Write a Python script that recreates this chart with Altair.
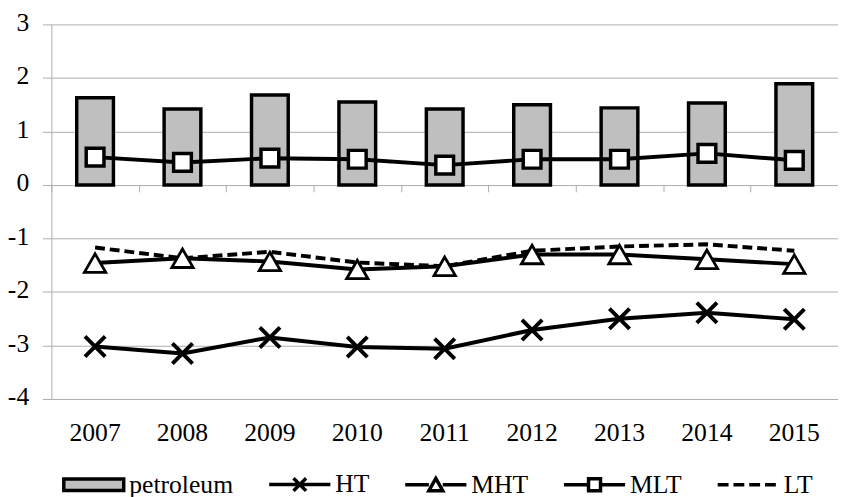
import altair as alt
import pandas as pd

# ---- data ----
years = ["2007", "2008", "2009", "2010", "2011", "2012", "2013", "2014", "2015"]
petroleum = [1.63, 1.42, 1.68, 1.55, 1.42, 1.50, 1.44, 1.53, 1.89]
ht = [-3.02, -3.15, -2.85, -3.03, -3.06, -2.71, -2.50, -2.39, -2.51]
mht = [-1.46, -1.37, -1.43, -1.58, -1.52, -1.30, -1.30, -1.39, -1.48]
mlt = [0.52, 0.42, 0.50, 0.48, 0.37, 0.48, 0.48, 0.59, 0.46]
lt = [-1.17, -1.37, -1.25, -1.45, -1.52, -1.23, -1.15, -1.11, -1.23]
series_names = ["petroleum", "HT", "MHT", "MLT", "LT"]
y_ticks = [-4, -3, -2, -1, 0, 1, 2, 3]

# ---- styling ----
W, H = 798, 380
FONT = "Liberation Serif, Times New Roman, serif"
FS = 26
GRID = "#adadad"
BAR = "#bfbfbf"
LW = 4

df = pd.DataFrame({"year": years, "petroleum": petroleum, "HT": ht,
                   "MHT": mht, "MLT": mlt, "LT": lt})
long = df.melt("year", value_vars=series_names, var_name="series", value_name="value")
legend_df = pd.DataFrame({"series": series_names})

xscale = alt.Scale(domain=years, paddingInner=0, paddingOuter=0)
yscale = alt.Scale(domain=[-4, 3], nice=False)

axis_labels = alt.Axis(orient="bottom", title=None, labelAngle=0, labelFont=FONT,
                       labelFontSize=FS, labelColor="black", labelPadding=21,
                       ticks=False, domain=False, grid=False)
axis_ticks = alt.Axis(orient="bottom", title=None, labels=False, ticks=True,
                      tickBand="extent", tickSize=7, tickColor=GRID, tickWidth=1,
                      domain=False, grid=False, offset=-H * 4 / 7)
yaxis = alt.Axis(orient="left", values=y_ticks, labelExpr="'' + datum.value", title=None,
                 grid=True, gridColor=GRID, gridWidth=1, domain=True, domainColor=GRID,
                 domainWidth=1, ticks=True, tickColor=GRID, tickSize=9, tickWidth=1,
                 labelFont=FONT, labelFontSize=FS, labelColor="black", labelPadding=14,
                 labelOffset=-2)


def X(axis):
    return alt.X("year:N", scale=xscale, sort=years, axis=axis)


def Y():
    return alt.Y("value:Q", scale=yscale, axis=yaxis)


def sel(name):
    return alt.Chart(long).transform_filter(alt.datum.series == name)


bars = sel("petroleum").mark_bar(
    fill=BAR, stroke="black", strokeWidth=3.5, width=alt.RelativeBandSize(0.42)
).encode(x=X(axis_labels), y=Y(), y2=alt.datum(0))

line_mlt = sel("MLT").mark_line(color="black", strokeWidth=LW).encode(x=X(axis_ticks), y=Y())
pts_mlt = sel("MLT").mark_point(shape="square", size=324, filled=True, fill="white",
                                stroke="black", strokeWidth=3.5, opacity=1).encode(x=X(None), y=Y())
line_lt = sel("LT").mark_line(color="black", strokeWidth=LW, strokeDash=[10, 5]).encode(x=X(None), y=Y())
line_mht = sel("MHT").mark_line(color="black", strokeWidth=LW).encode(x=X(None), y=Y())
pts_mht = sel("MHT").mark_point(shape="triangle-up", size=470, filled=True, fill="white",
                                stroke="black", strokeWidth=2.8, opacity=1).encode(x=X(None), y=Y())
line_ht = sel("HT").mark_line(color="black", strokeWidth=LW).encode(x=X(None), y=Y())
pts_ht = sel("HT").mark_point(shape="M-1,-1L1,1M-1,1L1,-1", size=420, filled=False,
                              stroke="black", strokeWidth=4, opacity=1).encode(x=X(None), y=Y())

# legend symbols (unit box = 64 px wide)
legend_paths = [
    "M-0.95,-0.18H0.95V0.18H-0.95Z",
    "M-0.97,0H0.97M-0.2,-0.2L0.2,0.2M-0.2,0.2L0.2,-0.2",
    "M-0.97,0H-0.22M0.22,0H0.97M-0.22,0.19L0,-0.2L0.22,0.19Z",
    "M-0.97,0H-0.19M0.19,0H0.97M-0.19,-0.19H0.19V0.19H-0.19Z",
    "M-0.97,0H0.97",
]
legend_fills = [BAR, "white", "white", "white", "white"]
legend_strokes = ["black"] * 5
legend_dash = [[1, 0], [1, 0], [1, 0], [1, 0], [11, 5]]

leg = alt.Legend(orient="none", legendX=9, legendY=432.5, direction="horizontal",
                 title=None, symbolSize=4096, symbolStrokeWidth=3.5, symbolStrokeColor="black",
                 symbolOpacity=1, labelFont=FONT, labelFontSize=FS, labelColor="black",
                 labelOffset=2, columnPadding=28, padding=0, labelLimit=0)

legend_layer = alt.Chart(legend_df).transform_filter("false").mark_point(
    filled=True, strokeWidth=3.5, opacity=1
).encode(
    fill=alt.Fill("series:N", scale=alt.Scale(domain=series_names, range=legend_fills), legend=leg),
    stroke=alt.Stroke("series:N", scale=alt.Scale(domain=series_names, range=legend_strokes), legend=leg),
    shape=alt.Shape("series:N", scale=alt.Scale(domain=series_names, range=legend_paths), legend=leg),
    strokeDash=alt.StrokeDash("series:N", scale=alt.Scale(domain=series_names, range=legend_dash), legend=leg),
)

chart = alt.layer(
    bars, line_mlt, pts_mlt, line_lt, line_mht, pts_mht, line_ht, pts_ht, legend_layer
).resolve_axis(x="independent").properties(
    width=W, height=H,
    autosize=alt.AutoSizeParams(type="none"),
    padding={"left": 44, "top": 13, "right": 0, "bottom": 110},
    background="white",
).configure_view(stroke=None)

chart.save("out.html", embed_options={"renderer": "svg", "actions": False})
